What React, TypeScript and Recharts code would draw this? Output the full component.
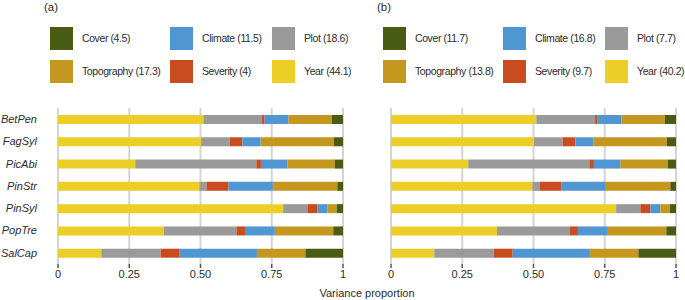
import { BarChart, Bar, XAxis, YAxis, CartesianGrid } from 'recharts'

const species = ['BetPen', 'FagSyl', 'PicAbi', 'PinStr', 'PinSyl', 'PopTre', 'SalCap']

// stacked proportions, left to right
const year = [0.51, 0.502, 0.271, 0.496, 0.79, 0.372, 0.152]
const plot = [0.206, 0.1, 0.425, 0.025, 0.085, 0.254, 0.208]
const severity = [0.009, 0.045, 0.016, 0.077, 0.035, 0.03, 0.067]
const climate = [0.084, 0.064, 0.093, 0.156, 0.035, 0.105, 0.271]
const topography = [0.152, 0.257, 0.166, 0.226, 0.033, 0.205, 0.17]
const cover = [0.039, 0.032, 0.029, 0.02, 0.022, 0.034, 0.132]

// legend order: Cover, Climate, Plot / Topography, Severity, Year
const legendNames = ['Cover', 'Climate', 'Plot', 'Topography', 'Severity', 'Year']
const totalsA = [4.5, 11.5, 18.6, 17.3, 4, 44.1]
const totalsB = [11.7, 16.8, 7.7, 13.8, 9.7, 40.2]

const xTicks = [0, 0.25, 0.5, 0.75, 1]

const colors: Record<string, string> = {
  Year: '#ecce26',
  Plot: '#9a9a9a',
  Severity: '#c84c1e',
  Climate: '#4f96d2',
  Topography: '#c4971e',
  Cover: '#4a5c13',
}

const stackOrder = ['Year', 'Plot', 'Severity', 'Climate', 'Topography', 'Cover']

const rows = species.map((s, i) => ({
  species: s,
  Year: year[i],
  Plot: plot[i],
  Severity: severity[i],
  Climate: climate[i],
  Topography: topography[i],
  Cover: cover[i],
}))

const font = '"Liberation Sans", Arial, sans-serif'
const textColor = '#2b2b2b'

function fmt(v: number) {
  if (v === 0) return '0'
  if (v === 1) return '1'
  return v.toFixed(2)
}

function Legend({ totals }: { totals: number[] }) {
  const colX = [50, 170, 272]
  const rowY = [27, 60]
  return (
    <>
      {legendNames.map((name, i) => {
        const x = colX[i % 3]
        const y = rowY[Math.floor(i / 3)]
        return (
          <div key={name}>
            <div
              style={{
                position: 'absolute', left: x, top: y, width: 23, height: 23,
                background: colors[name],
              }}
            />
            <div
              style={{
                position: 'absolute', left: x + 32, top: y + 5, fontSize: 10.5,
                letterSpacing: -0.4, lineHeight: '13px', color: textColor, whiteSpace: 'nowrap',
              }}
            >
              {`${name} (${totals[i]})`}
            </div>
          </div>
        )
      })}
    </>
  )
}

function Panel({ left, tag, totals, showLabels }: { left: number; tag: string; totals: number[]; showLabels: boolean }) {
  return (
    <div style={{ position: 'absolute', left, top: 0, width: 352, height: 300 }}>
      <div style={{ position: 'absolute', left: 44, top: 0, fontSize: 11.5, lineHeight: '14px', color: textColor }}>{tag}</div>
      <Legend totals={totals} />
      <BarChart
        width={350}
        height={300}
        data={rows}
        layout="vertical"
        margin={{ top: 108, right: 7, bottom: 16, left: 0 }}
        style={{ position: 'absolute', left: 0, top: 0 }}
      >
        <CartesianGrid horizontal={false} vertical stroke="#d4d4d4" strokeWidth={2} />
        <XAxis
          type="number"
          domain={[0, 1]}
          ticks={xTicks}
          interval={0}
          tickFormatter={fmt}
          axisLine={false}
          tickSize={4}
          tickLine={{ stroke: '#555', strokeWidth: 1.5 }}
          tick={{ fontSize: 11, fill: textColor, fontFamily: font }}
          height={20}
          allowDataOverflow
        />
        <YAxis
          type="category"
          dataKey="species"
          width={58}
          axisLine={false}
          tickLine={false}
          tickSize={0}
          tickMargin={21}
          interval={0}
          tick={showLabels ? { fontSize: 11, fill: textColor, fontFamily: font, fontStyle: 'italic' } : false}
        />
        {stackOrder.map((k) => (
          <Bar key={k} dataKey={k} stackId="a" fill={colors[k]} barSize={9} isAnimationActive={false} />
        ))}
      </BarChart>
    </div>
  )
}

export default function App() {
  return (
    <div style={{ position: 'absolute', left: 0, top: 0, width: 685, height: 300, background: '#fff', fontFamily: font, overflow: 'hidden' }}>
      <Panel left={0} tag="(a)" totals={totalsA} showLabels />
      <Panel left={333} tag="(b)" totals={totalsB} showLabels={false} />
      <div
        style={{
          position: 'absolute', left: 267, width: 200, top: 286, textAlign: 'center',
          fontSize: 11, lineHeight: '14px', color: textColor,
        }}
      >
        Variance proportion
      </div>
    </div>
  )
}
